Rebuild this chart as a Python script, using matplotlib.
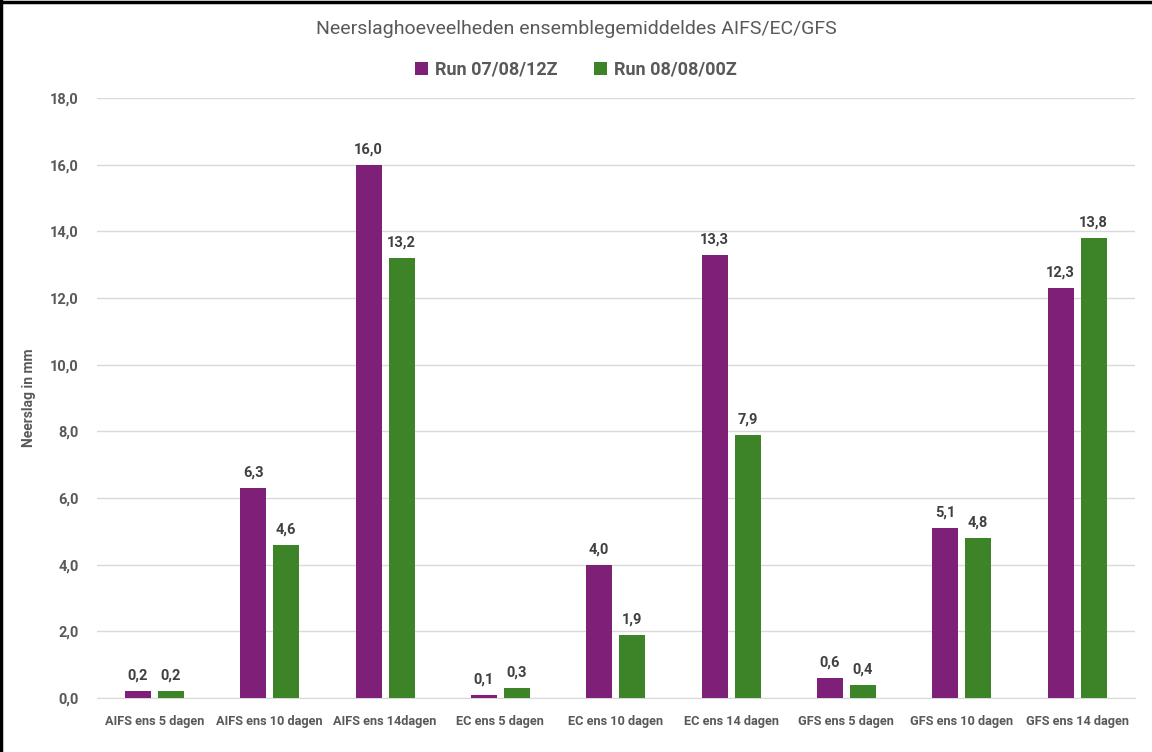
import numpy as np
import matplotlib
matplotlib.use("Agg")
import matplotlib.pyplot as plt
from matplotlib.lines import Line2D

categories = ["AIFS ens 5 dagen", "AIFS ens 10 dagen", "AIFS ens 14dagen",
              "EC ens 5 dagen", "EC ens 10 dagen", "EC ens 14 dagen",
              "GFS ens 5 dagen", "GFS ens 10 dagen", "GFS ens 14 dagen"]
run_0712 = [0.2, 6.3, 16.0, 0.1, 4.0, 13.3, 0.6, 5.1, 12.3]
run_0800 = [0.2, 4.6, 13.2, 0.3, 1.9, 7.9, 0.4, 4.8, 13.8]
series_names = ["Run 07/08/12Z", "Run 08/08/00Z"]
yticks = [0, 2, 4, 6, 8, 10, 12, 14, 16, 18]

purple = "#7E1F78"
green = "#3C8427"
grey = "#595959"

plt.rcParams['font.family'] = ['Roboto', 'DejaVu Sans']

fig = plt.figure(figsize=(11.52, 7.52), dpi=100)
ax = fig.add_axes([0.084, 0.0718, 0.901, 0.7979])

x = np.arange(len(categories))
w = 0.225
off = 0.143
b1 = ax.bar(x - off, run_0712, w, color=purple, label=series_names[0], zorder=3)
b2 = ax.bar(x + off, run_0800, w, color=green, label=series_names[1], zorder=3)

for bars, vals in ((b1, run_0712), (b2, run_0800)):
    for r, v in zip(bars, vals):
        ax.annotate(f"{v:.1f}".replace(".", ","),
                    (r.get_x() + r.get_width() / 2, v),
                    xytext=(0, 6), textcoords="offset points",
                    ha="center", va="bottom", fontsize=10.5,
                    fontweight="bold", color="#404040")

ax.set_xlim(-0.5, len(categories) - 0.5)
ax.set_ylim(0, 18)
ax.set_yticks(yticks)
ax.set_yticklabels([f"{t:.1f}".replace(".", ",") for t in yticks],
                   fontsize=10.5, fontweight="bold", color=grey)
ax.set_xticks(x)
ax.set_xticklabels(categories, fontsize=9.2, fontweight="bold", color=grey)
ax.tick_params(length=0, pad=12)
ax.tick_params(axis="y", pad=13)
ax.grid(axis="y", color="#D9D9D9", linewidth=1, zorder=0)
for s in ("top", "right", "left"):
    ax.spines[s].set_visible(False)
ax.spines["bottom"].set_color("#D9D9D9")
ax.set_ylabel("Neerslag in mm", fontsize=10, fontweight="bold",
              color=grey, labelpad=10)

fig.text(0.5, 0.962, "Neerslaghoeveelheden ensemblegemiddeldes AIFS/EC/GFS",
         ha="center", va="center", fontsize=14, color=grey)
fig.legend(handles=[b1, b2], loc="center", bbox_to_anchor=(0.5, 0.907),
           ncol=2, frameon=False, handlelength=0.7,
           handleheight=0.7, handletextpad=0.4, columnspacing=2.0,
           prop={'weight': 'bold', 'size': 13})
for t in fig.legends[0].get_texts():
    t.set_color(grey)

# figure border on top and left
fig.add_artist(Line2D([0.001, 0.001], [0, 1], color="black", linewidth=2.5,
                      transform=fig.transFigure))
fig.add_artist(Line2D([0, 1], [0.998, 0.998], color="black", linewidth=2.5,
                      transform=fig.transFigure))

fig.savefig("out.png", dpi=100, facecolor="white")
